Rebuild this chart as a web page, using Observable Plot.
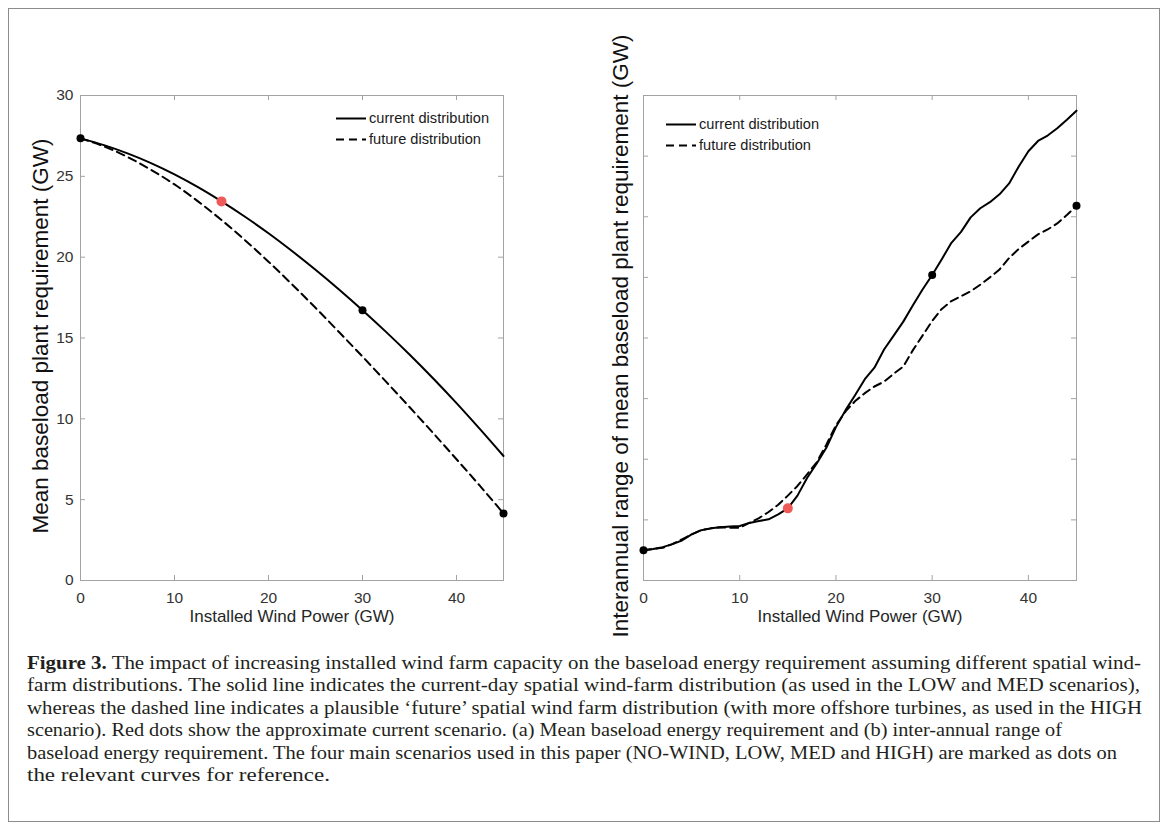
<!DOCTYPE html>
<html><head><meta charset="utf-8">
<script src="https://cdn.jsdelivr.net/npm/d3@7"></script>
<script src="https://cdn.jsdelivr.net/npm/@observablehq/plot@0.6"></script>
<style>
html,body{margin:0;padding:0;background:#fff;}
#fig{position:relative;width:1168px;height:829px;overflow:hidden;font-family:"Liberation Sans",Arial,sans-serif;}
#border{position:absolute;left:8px;top:8px;width:1152px;height:814px;border:1px solid #8c8c8c;box-sizing:border-box;}
#left,#right{position:absolute;top:0;}
#left{left:0;}
#right{left:584px;}
.legend{position:absolute;font-size:14.6px;color:#1a1a1a;}
.legend .row{position:relative;height:21px;}
.legend svg{position:absolute;left:0;top:0;}
.legend span{position:absolute;left:33px;top:1px;white-space:nowrap;line-height:19px;}
#caption{position:absolute;left:27px;top:652px;font-family:"Liberation Serif","Times New Roman",serif;font-size:18px;line-height:22.4px;white-space:nowrap;color:#231f20;}
#caption div{transform-origin:0 0;width:max-content;}
</style>
</head><body>
<div id="fig">
  <div id="border"></div>
  <div id="left"></div>
  <div id="right"></div>
  <div class="legend" id="legA" style="left:336px;top:108px"></div>
  <div class="legend" id="legB" style="left:666px;top:114px"></div>
  <div id="caption">
    <div><b>Figure 3.</b> The impact of increasing installed wind farm capacity on the baseload energy requirement assuming different spatial wind-</div>
    <div>farm distributions. The solid line indicates the current-day spatial wind-farm distribution (as used in the LOW and MED scenarios),</div>
    <div>whereas the dashed line indicates a plausible ‘future’ spatial wind farm distribution (with more offshore turbines, as used in the HIGH</div>
    <div>scenario). Red dots show the approximate current scenario. (a) Mean baseload energy requirement and (b) inter-annual range of</div>
    <div>baseload energy requirement. The four main scenarios used in this paper (NO-WIND, LOW, MED and HIGH) are marked as dots on</div>
    <div>the relevant curves for reference.</div>
  </div>
</div>
<script>
// ---------- data ----------
const seriesNames = ["current distribution", "future distribution"];

// panel (a): mean baseload plant requirement (GW)
const windX = [0, 2.5, 5, 7.5, 10, 12.5, 15, 17.5, 20, 22.5, 25, 27.5, 30, 32.5, 35, 37.5, 40, 42.5, 45];
const meanCurrent = [27.35, 26.93, 26.42, 25.82, 25.12, 24.33, 23.45, 22.5, 21.48, 20.38, 19.22, 18.0, 16.72, 15.38, 13.98, 12.51, 10.97, 9.36, 7.7];
const meanFuture = [27.35, 26.85, 26.2, 25.4, 24.5, 23.45, 22.3, 21.05, 19.72, 18.32, 16.87, 15.37, 13.85, 12.3, 10.73, 9.13, 7.5, 5.85, 4.15];

// panel (b): interannual range of mean baseload plant requirement (unlabelled units)
const rangeX = [0,1,2,3,4,5,6,7,8,9,10,11,12,13,14,15,16,17,18,19,20,21,22,23,24,25,26,27,28,29,30,31,32,33,34,35,36,37,38,39,40,41,42,43,44,45];
const rangeCurrent = [0.50,0.52,0.55,0.60,0.66,0.76,0.83,0.86,0.88,0.89,0.90,0.95,0.98,1.01,1.09,1.19,1.40,1.69,1.93,2.19,2.53,2.81,3.06,3.32,3.51,3.81,4.04,4.27,4.54,4.80,5.04,5.30,5.57,5.75,5.99,6.14,6.24,6.37,6.55,6.83,7.08,7.25,7.34,7.46,7.60,7.75];
const rangeFuture = [0.50,0.52,0.54,0.60,0.68,0.76,0.83,0.86,0.88,0.87,0.87,0.95,1.03,1.13,1.25,1.40,1.56,1.75,1.95,2.24,2.56,2.79,2.96,3.09,3.20,3.28,3.41,3.53,3.80,4.04,4.28,4.48,4.61,4.69,4.77,4.88,5.00,5.13,5.32,5.47,5.59,5.71,5.79,5.89,6.03,6.18];

// scenarios marked as dots
const scenarioNames = ["NO-WIND", "LOW", "MED", "HIGH"];
const scenarioWind = [0, 15, 30, 45];
const scenarioDist = ["current", "current", "current", "future"];
const presentScenario = "LOW";

// axes
const xTicks = [0, 10, 20, 30, 40];
const xDomain = [0, 45];
const meanTicks = [0, 5, 10, 15, 20, 25, 30];
const meanDomain = [0, 30];
const rangeTicks = [0, 1, 2, 3, 4, 5, 6, 7, 8];
const rangeDomain = [0, 8];
const xLabel = "Installed Wind Power (GW)";
const yLabelA = "Mean baseload plant requirement (GW)";
const yLabelB = "Interannual range of mean baseload plant requirement (GW)";

// caption line right edges (px) in the reference
const captionEnds = [1141, 1140, 1142, 1062, 1117, 330];

// ---------- build ----------
function rows(xs, cur, fut) {
  return xs.flatMap((x, i) => [{x, y: cur[i], dist: "current"}, {x, y: fut[i], dist: "future"}]);
}
function dots(xs, cur, fut) {
  return scenarioNames.map((name, i) => {
    const j = xs.indexOf(scenarioWind[i]);
    return {name, x: scenarioWind[i], y: (scenarioDist[i] === "current" ? cur : fut)[j]};
  });
}

const AX = "#a3a3a3";
const FONT = '"Liberation Sans", Arial, Helvetica, sans-serif';

function panel({xs, cur, fut, yDomain, yTicks, yTickLabels, yLabel, width, marginLeft, marginRight, yLabelDx, curve}) {
  const data = rows(xs, cur, fut);
  const pts = dots(xs, cur, fut);
  const [y0, y1] = yDomain;
  const marks = [
    Plot.frame({stroke: AX, strokeWidth: 1}),
    // inward tick marks on all four sides
    Plot.ruleX(xTicks, {x: d => d, y1: y0, y2: y0, insetTop: -5, stroke: AX}),
    Plot.ruleX(xTicks, {x: d => d, y1: y1, y2: y1, insetBottom: -5, stroke: AX}),
    Plot.ruleY(yTicks, {y: d => d, x1: xDomain[0], x2: xDomain[0], insetRight: -5, stroke: AX}),
    Plot.ruleY(yTicks, {y: d => d, x1: xDomain[1], x2: xDomain[1], insetLeft: -5, stroke: AX}),
    Plot.axisX({ticks: xTicks, tickSize: 0, tickPadding: 11, label: null, fontSize: 15.5, fill: "#333"}),
    Plot.text([xLabel], {frameAnchor: "bottom", dy: 41, text: d => d, fontSize: 17, fill: "#262626"}),
    Plot.text([yLabel], {frameAnchor: "left", textAnchor: "middle", rotate: -90, dx: yLabelDx, dy: -2, text: d => d, fontSize: 22.5, fill: "#111"}),
    Plot.line(data.filter(d => d.dist === "current"), {x: "x", y: "y", stroke: "#000", strokeWidth: 2, curve}),
    Plot.line(data.filter(d => d.dist === "future"), {x: "x", y: "y", stroke: "#000", strokeWidth: 2, strokeDasharray: "8,5", curve}),
    Plot.dot(pts.filter(d => d.name !== presentScenario), {x: "x", y: "y", r: 4, fill: "#000"}),
    Plot.dot(pts.filter(d => d.name === presentScenario), {x: "x", y: "y", r: 5, fill: "#ee5a57"})
  ];
  if (yTickLabels) marks.push(Plot.axisY({ticks: yTicks, tickSize: 0, tickPadding: 7, label: null, fontSize: 15.5, fill: "#333"}));
  return Plot.plot({
    width, height: 640,
    marginTop: 95, marginBottom: 60, marginLeft, marginRight,
    x: {domain: xDomain},
    y: {domain: yDomain, axis: yTickLabels ? undefined : null},
    style: {fontFamily: FONT, fontSize: "15.5px", background: "none", overflow: "visible"},
    marks
  });
}

document.getElementById("left").append(panel({
  xs: windX, cur: meanCurrent, fut: meanFuture, yDomain: meanDomain, yTicks: meanTicks, yTickLabels: true,
  yLabel: yLabelA, width: 584, marginLeft: 80, marginRight: 81, yLabelDx: -40, curve: "monotone-x"
}));
document.getElementById("right").append(panel({
  xs: rangeX, cur: rangeCurrent, fut: rangeFuture, yDomain: rangeDomain, yTicks: rangeTicks, yTickLabels: false,
  yLabel: yLabelB, width: 584, marginLeft: 59, marginRight: 92, yLabelDx: -23, curve: "linear"
}));

// legends
function legend(id) {
  const el = document.getElementById(id);
  seriesNames.forEach((name, i) => {
    const row = document.createElement("div");
    row.className = "row";
    row.innerHTML = `<svg width="30" height="21"><line x1="0" x2="30" y1="10.5" y2="10.5" stroke="#000" stroke-width="2" ${i === 1 ? 'stroke-dasharray="8,5"' : ''}/></svg><span>${name}</span>`;
    el.append(row);
  });
}
legend("legA");
legend("legB");

// caption: stretch/compress each line to the reference line length
document.querySelectorAll("#caption div").forEach((line, i) => {
  const w = line.getBoundingClientRect().width;
  line.style.transform = `scaleX(${(captionEnds[i] - 27) / w})`;
});
</script>
</body></html>
